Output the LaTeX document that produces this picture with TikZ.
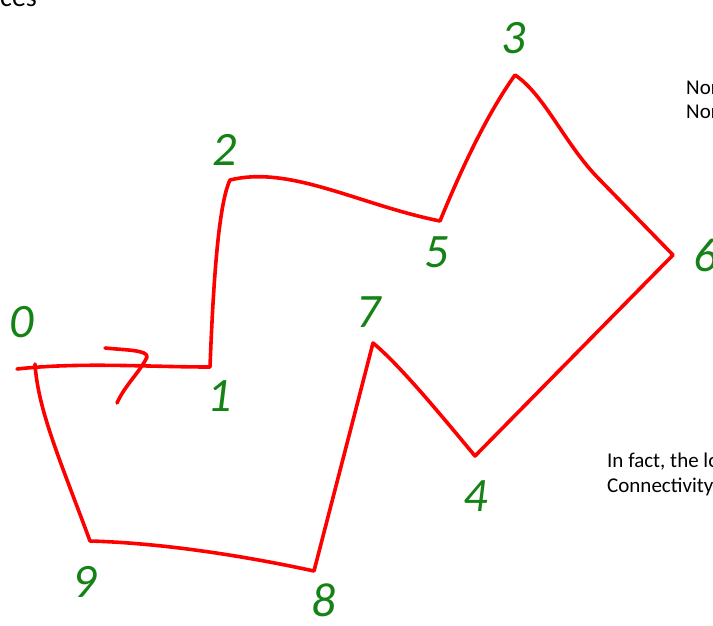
\documentclass[tikz,border=0pt]{standalone}
\usepackage{fontspec}
\setmainfont{Carlito}
\usepackage{xcolor}
\usepackage{tikz}
\definecolor{penRed}{RGB}{255,0,0}
\definecolor{penGreen}{RGB}{20,130,20}

\begin{document}
\begin{tikzpicture}[
    x=1pt, y=-1pt,
    edge/.style={draw=penRed, line width=3.6pt, line join=round, line cap=round},
    vlabel/.style={text=penGreen, font=\fontsize{48}{48}\selectfont\itshape, inner sep=0pt},
    note/.style={font=\fontsize{21}{25}\selectfont, anchor=base west, inner sep=0pt},
]
\useasboundingbox (0,0) rectangle (713,625);
\clip (0,0) rectangle (713,625);

% Vertices of the outline
\coordinate (tail) at (17,369);
\coordinate (v0) at (35,364);
\coordinate (v1) at (210,367);
\coordinate (v2) at (230,180);
\coordinate (v3) at (515,75);
\coordinate (v4) at (475,456);
\coordinate (v5) at (440,221);
\coordinate (v6) at (673,255);
\coordinate (v7) at (373,343);
\coordinate (v8) at (314,571);
\coordinate (v9) at (90,541);

% Outline
\draw[edge] (tail) .. controls (80,362) and (150,367) .. (v1)
    .. controls (213,290) and (218,205) .. (v2)
    .. controls (290,165) and (360,205) .. (v5)
    .. controls (465,160) and (490,110) .. (v3)
    .. controls (545,95) and (565,145) .. (600,180) -- (v6)
    -- (v4)
    .. controls (445,420) and (400,365) .. (v7)
    -- (v8)
    .. controls (240,555) and (160,543) .. (v9)
    .. controls (60,460) and (38,410) .. (v0);

% Stray mark on the edge 0--1
\draw[edge] (105,348) .. controls (125,350) and (148,350) .. (147,357)
    .. controls (140,372) and (125,385) .. (117,403);

% Vertex labels
\node[vlabel] (l0) at (22,322) {0};
\node[vlabel] (l1) at (220,396) {1};
\node[vlabel] (l2) at (225,150) {2};
\node[vlabel] (l3) at (514,38) {3};
\node[vlabel] (l4) at (476,496) {4};
\node[vlabel] (l5) at (437,252) {5};
\node[vlabel] (l6) at (706,255) {6};
\node[vlabel] (l7) at (369,312) {7};
\node[vlabel] (l8) at (324,600) {8};
\node[vlabel] (l9) at (85,582) {9};

% Slide text
\node[note, font=\fontsize{28}{28}\selectfont] (ces) at (0,6) {ces};
\node[note] (nor1) at (686,94) {Nor};
\node[note] (nor2) at (686,118) {Nor};
\node[note] (fact) at (607,467) {In fact, the lo};
\node[note] (conn) at (607,492) {Connectivity};

\end{tikzpicture}
\end{document}
